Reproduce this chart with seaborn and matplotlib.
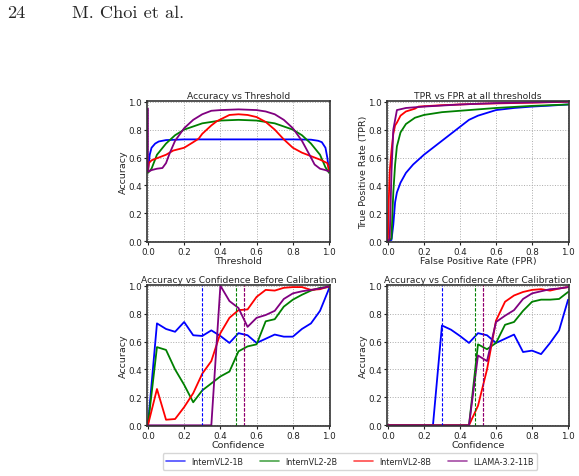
import numpy as np
import pandas as pd
import matplotlib
matplotlib.use('Agg')
import matplotlib.pyplot as plt
from matplotlib.lines import Line2D
import seaborn as sns

MODELS = ['InternVL2-1B', 'InternVL2-2B', 'InternVL2-8B', 'LLAMA-3.2-11B']
COLORS = ['blue', 'green', 'red', 'purple']

# accuracy vs threshold
thr_1b = [0.0, 0.005, 0.01, 0.02, 0.04, 0.06, 0.1, 0.2, 0.5, 0.8, 0.9, 0.94, 0.96, 0.98, 0.99, 1.0]
acc_1b = [0.50, 0.56, 0.62, 0.67, 0.70, 0.715, 0.725, 0.73, 0.73, 0.73, 0.728, 0.72, 0.71, 0.67, 0.60, 0.50]
thr_2b = [0.0, 0.02, 0.05, 0.1, 0.15, 0.2, 0.3, 0.4, 0.5, 0.6, 0.7, 0.8, 0.85, 0.9, 0.95, 0.98, 1.0]
acc_2b = [0.49, 0.52, 0.62, 0.70, 0.76, 0.80, 0.845, 0.865, 0.87, 0.865, 0.845, 0.80, 0.76, 0.70, 0.62, 0.53, 0.49]
thr_8b = [0.0, 0.005, 0.02, 0.1, 0.14, 0.2, 0.25, 0.28, 0.3, 0.35, 0.38, 0.45, 0.5, 0.55, 0.6, 0.65, 0.7, 0.75, 0.8, 0.85, 0.9, 0.95, 0.99, 1.0]
acc_8b = [0.50, 0.56, 0.58, 0.62, 0.65, 0.67, 0.71, 0.735, 0.77, 0.83, 0.86, 0.905, 0.91, 0.905, 0.89, 0.855, 0.80, 0.73, 0.67, 0.635, 0.61, 0.585, 0.56, 0.51]
thr_11b = [0.0, 0.0, 0.005, 0.02, 0.05, 0.08, 0.1, 0.12, 0.15, 0.2, 0.25, 0.3, 0.35, 0.4, 0.5, 0.6, 0.65, 0.7, 0.75, 0.8, 0.85, 0.9, 0.92, 0.95, 0.98, 1.0]
acc_11b = [0.95, 0.50, 0.50, 0.51, 0.52, 0.525, 0.56, 0.63, 0.72, 0.81, 0.87, 0.91, 0.935, 0.94, 0.945, 0.94, 0.93, 0.91, 0.87, 0.81, 0.72, 0.60, 0.55, 0.52, 0.51, 0.50]

# ROC curves
fpr_1b = [0.0, 0.02, 0.03, 0.04, 0.05, 0.07, 0.1, 0.14, 0.2, 0.25, 0.32, 0.4, 0.45, 0.5, 0.6, 0.7, 0.8, 0.9, 1.0]
tpr_1b = [0.0, 0.01, 0.12, 0.28, 0.35, 0.42, 0.49, 0.55, 0.62, 0.67, 0.74, 0.82, 0.87, 0.90, 0.94, 0.955, 0.965, 0.972, 0.98]
fpr_2b = [0.0, 0.02, 0.025, 0.03, 0.04, 0.05, 0.07, 0.1, 0.15, 0.2, 0.3, 0.4, 0.5, 0.6, 0.8, 1.0]
tpr_2b = [0.0, 0.02, 0.2, 0.35, 0.55, 0.68, 0.78, 0.84, 0.885, 0.905, 0.925, 0.935, 0.945, 0.955, 0.97, 0.98]
fpr_8b = [0.0, 0.005, 0.01, 0.02, 0.03, 0.04, 0.05, 0.07, 0.1, 0.15, 0.17, 0.3, 0.5, 0.8, 1.0]
tpr_8b = [0.0, 0.30, 0.50, 0.65, 0.77, 0.83, 0.85, 0.90, 0.93, 0.95, 0.965, 0.975, 0.985, 0.993, 1.0]
fpr_11b = [0.0, 0.01, 0.02, 0.03, 0.05, 0.1, 0.2, 0.4, 0.6, 1.0]
tpr_11b = [0.0, 0.02, 0.50, 0.80, 0.94, 0.955, 0.965, 0.98, 0.99, 1.0]

# reliability bins
conf = [0.0, 0.05, 0.1, 0.15, 0.2, 0.25, 0.3, 0.35, 0.4, 0.45, 0.5,
        0.55, 0.6, 0.65, 0.7, 0.75, 0.8, 0.85, 0.9, 0.95, 1.0]
before_1b = [0.0, 0.73, 0.69, 0.67, 0.74, 0.645, 0.64, 0.68, 0.64, 0.59, 0.66,
             0.645, 0.59, 0.62, 0.65, 0.635, 0.635, 0.69, 0.73, 0.82, 0.98]
before_2b = [0.0, 0.56, 0.54, 0.40, 0.29, 0.165, 0.25, 0.30, 0.35, 0.385, 0.53,
             0.565, 0.58, 0.745, 0.76, 0.85, 0.90, 0.935, 0.965, 0.985, 0.99]
before_8b = [0.0, 0.26, 0.04, 0.045, 0.13, 0.23, 0.37, 0.46, 0.66, 0.77, 0.825,
             0.83, 0.92, 0.97, 0.965, 0.985, 0.99, 0.99, 0.97, 0.975, 0.995]
before_11b = [0.0, 0.0, 0.0, 0.0, 0.0, 0.0, 0.0, 0.0, 1.0, 0.89, 0.84,
              0.705, 0.77, 0.79, 0.82, 0.905, 0.945, 0.96, 0.97, 0.98, 0.995]
after_1b = [0.0, 0.0, 0.0, 0.0, 0.0, 0.0, 0.715, 0.685, 0.64, 0.59, 0.66,
            0.645, 0.59, 0.62, 0.65, 0.525, 0.535, 0.51, 0.59, 0.68, 0.90]
after_2b = [0.0, 0.0, 0.0, 0.0, 0.0, 0.0, 0.0, 0.0, 0.0, 0.0, 0.58,
            0.545, 0.59, 0.72, 0.74, 0.82, 0.885, 0.90, 0.90, 0.905, 0.955]
after_8b = [0.0, 0.0, 0.0, 0.0, 0.0, 0.0, 0.0, 0.0, 0.0, 0.0, 0.14,
            0.40, 0.75, 0.885, 0.93, 0.955, 0.97, 0.975, 0.965, 0.98, 0.99]
after_11b = [0.0, 0.0, 0.0, 0.0, 0.0, 0.0, 0.0, 0.0, 0.0, 0.0, 0.50,
             0.46, 0.74, 0.785, 0.825, 0.905, 0.945, 0.96, 0.975, 0.98, 0.99]

# average confidence markers (dashed verticals)
mean_conf_before = [0.298, 0.485, 0.53, 0.53]
mean_conf_after = [0.298, 0.484, 0.529, 0.529]

sns.set_theme(style='ticks')
plt.rcParams['font.family'] = ['DejaVu Sans']

fig = plt.figure(figsize=(5.79, 4.77), dpi=100)
W, H = 579.0, 477.0


def add_axes(x0, y0, x1, y1):
    return fig.add_axes([x0 / W, 1 - y1 / H, (x1 - x0) / W, (y1 - y0) / H])


ax_thr = add_axes(147, 102, 330, 243)
ax_roc = add_axes(387, 102, 569, 243)
ax_bef = add_axes(147, 286, 330, 427)
ax_aft = add_axes(387, 286, 569, 427)


def draw(ax, xs, ys):
    for x, y, c in zip(xs, ys, COLORS):
        df = pd.DataFrame({'x': x, 'y': y})
        sns.lineplot(data=df, x='x', y='y', ax=ax, color=c, lw=1.3,
                     estimator=None, sort=False, legend=False)


draw(ax_thr, [thr_1b, thr_2b, thr_8b, thr_11b], [acc_1b, acc_2b, acc_8b, acc_11b])
draw(ax_roc, [fpr_1b, fpr_2b, fpr_8b, fpr_11b], [tpr_1b, tpr_2b, tpr_8b, tpr_11b])
draw(ax_bef, [conf] * 4, [before_1b, before_2b, before_8b, before_11b])
draw(ax_aft, [conf] * 4, [after_1b, after_2b, after_8b, after_11b])

for ax, means in [(ax_bef, mean_conf_before), (ax_aft, mean_conf_after)]:
    for m, c in zip(means, COLORS):
        ax.axvline(m, color=c, ls=(0, (3, 1.5)), lw=0.8)

titles = ['Accuracy vs Threshold', 'TPR vs FPR at all thresholds',
          'Accuracy vs Confidence Before Calibration', 'Accuracy vs Confidence After Calibration']
xlabels = ['Threshold', 'False Positive Rate (FPR)', 'Confidence', 'Confidence']
ylabels = ['Accuracy', 'True Positive Rate (TPR)', 'Accuracy', 'Accuracy']
ticks = [0.0, 0.2, 0.4, 0.6, 0.8, 1.0]
for ax, t, xl, yl in zip([ax_thr, ax_roc, ax_bef, ax_aft], titles, xlabels, ylabels):
    ax.set_xlim(-0.005, 1.005)
    ax.set_ylim(-0.005, 1.005)
    ax.set_xticks(ticks)
    ax.set_yticks(ticks)
    ax.set_xticklabels([f'{v:.1f}' for v in ticks])
    ax.set_yticklabels([f'{v:.1f}' for v in ticks])
    ax.tick_params(labelsize=6.3, length=2.5, width=0.8, pad=1.2, colors='#222222')
    ax.set_title(t, fontsize=6.6, pad=2)
    ax.set_xlabel(xl, fontsize=6.8, labelpad=0)
    ax.set_ylabel(yl, fontsize=6.8, labelpad=0)
    ax.grid(True, ls=':', lw=0.7, color='#aaaaaa')
    for s in ax.spines.values():
        s.set_linewidth(1.2)
        s.set_color('#333333')

handles = [Line2D([], [], color=c, lw=1.2, alpha=0.7) for c in COLORS]
fig.legend(handles, MODELS, loc='center', bbox_to_anchor=(350 / W, 1 - 462.5 / H),
           ncol=4, fontsize=5.8, frameon=True, handlelength=2.3, handletextpad=0.8,
           columnspacing=2.1, borderpad=0.45, edgecolor='#cccccc', fancybox=True)

fig.text(7 / W, 1 - 13 / H, '24', fontsize=13.2, family='cmr10', va='center')
fig.text(72 / W, 1 - 13 / H, 'M. Choi et al.', fontsize=13.2, family='cmr10', va='center')

fig.savefig('out.png', dpi=100)
